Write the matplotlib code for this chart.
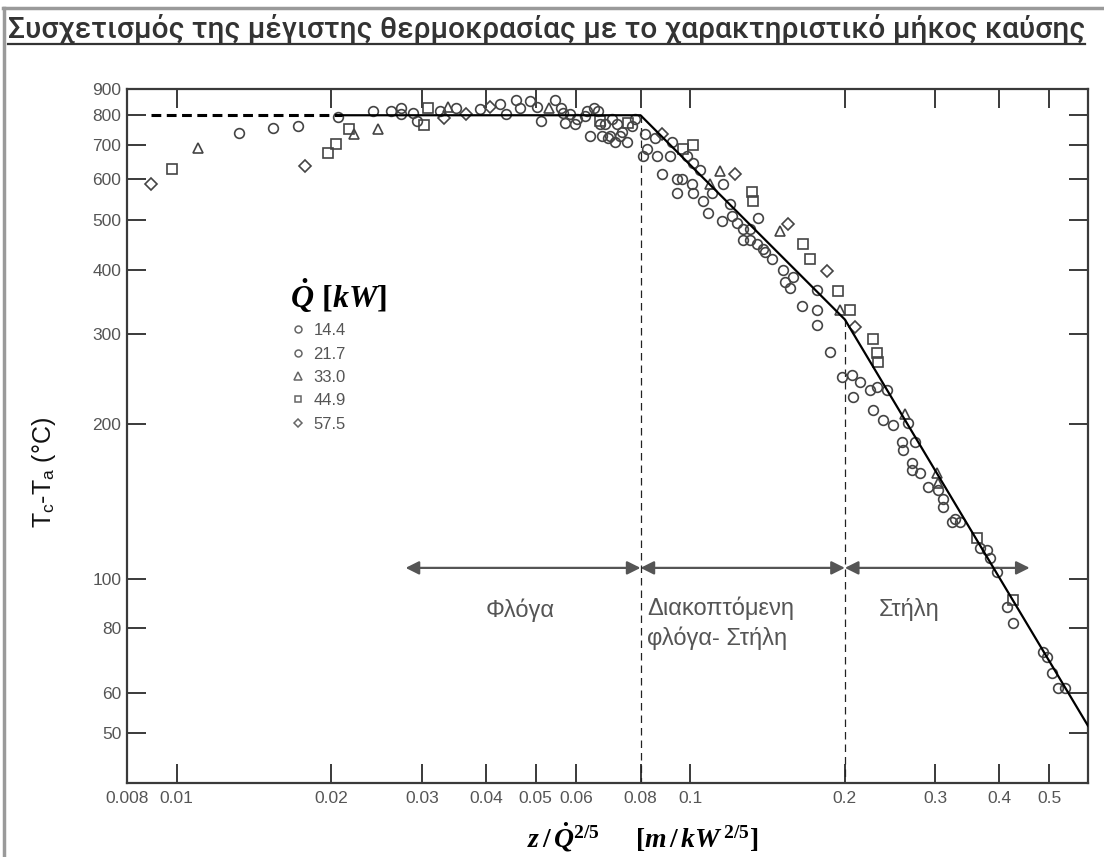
import matplotlib
matplotlib.use("Agg")
import matplotlib.pyplot as plt
from matplotlib.lines import Line2D
from matplotlib.ticker import FixedLocator, FixedFormatter, NullLocator

# ---------------- data ----------------
title = "Συσχετισμός της μέγιστης θερμοκρασίας με το χαρακτηριστικό μήκος καύσης"

q144_x = [0.0132, 0.0172, 0.0241, 0.0273, 0.0294, 0.0349, 0.0427, 0.0457, 0.0488, 0.0511,
          0.0559, 0.0597, 0.0648, 0.0683, 0.0721, 0.0715, 0.0571, 0.063, 0.0668, 0.0693,
          0.0731, 0.0754, 0.0818, 0.081, 0.0863, 0.0914, 0.0943, 0.0965, 0.1013, 0.1009,
          0.106, 0.1104, 0.1196, 0.1207, 0.1268, 0.1308, 0.1308, 0.1387, 0.1444, 0.153,
          0.1586, 0.1766, 0.1766, 0.1976, 0.2142, 0.224, 0.2417, 0.2374, 0.2655, 0.2585,
          0.2703, 0.2802, 0.3038, 0.3106, 0.3233, 0.3667, 0.3835, 0.4138, 0.4863, 0.5062,
          0.5365]
q144_y = [740, 762, 815, 825, 779, 825, 840, 856, 851, 779,
          825, 769, 825, 769, 769, 711, 772, 815, 769, 722,
          728, 711, 734, 665, 665, 665, 602, 602, 646, 587,
          545, 565, 538, 509, 480, 480, 458, 439, 419, 378,
          388, 366, 312, 247, 242, 233, 233, 204, 201, 185,
          168, 161, 149, 138, 129, 115, 110, 88, 72, 65.6,
          61.3]

q217_x = [0.0154, 0.0206, 0.0261, 0.0273, 0.0289, 0.0326, 0.039, 0.0437, 0.0467, 0.0504,
          0.0546, 0.0584, 0.0625, 0.0662, 0.0699, 0.0771, 0.0566, 0.0603, 0.0639, 0.0674,
          0.0705, 0.0737, 0.0782, 0.0825, 0.0855, 0.0882, 0.0923, 0.0943, 0.0987, 0.1046,
          0.1013, 0.1084, 0.1159, 0.1154, 0.1234, 0.1268, 0.1356, 0.135, 0.14, 0.1517,
          0.1565, 0.1652, 0.1766, 0.1873, 0.2067, 0.2076, 0.2311, 0.227, 0.2482, 0.274,
          0.2596, 0.2703, 0.2904, 0.3106, 0.3279, 0.3353, 0.3784, 0.3957, 0.4251, 0.4951,
          0.52]
q217_y = [755, 793, 815, 804, 807, 815, 821, 804, 825, 832,
          856, 804, 796, 815, 728, 762, 807, 786, 728, 728,
          786, 743, 786, 689, 722, 616, 711, 565, 665, 627,
          565, 516, 587, 498, 494, 458, 505, 450, 433, 399,
          368, 340, 334, 276, 250, 226, 236, 213, 199, 185,
          178, 163, 151, 143, 131, 129, 114, 103, 82, 70.5,
          61.3]

q330_x = [0.011, 0.0221, 0.0246, 0.0337, 0.053, 0.1094, 0.1144, 0.1497, 0.1958, 0.262,
          0.3024, 0.3038]
q330_y = [692, 737, 752, 830, 825, 587, 622, 476, 334, 209,
          161, 154]

q449_x = [0.0098, 0.0197, 0.0204, 0.0216, 0.0303, 0.0308, 0.0668, 0.0758, 0.0969, 0.1013,
          0.132, 0.1326, 0.1659, 0.1712, 0.1941, 0.2048, 0.227, 0.2311, 0.2321, 0.3618,
          0.4251]
q449_y = [630, 674, 704, 752, 765, 825, 779, 772, 689, 701,
          568, 545, 448, 419, 363, 334, 293, 275, 264, 120,
          91]

q575_x = [0.0089, 0.0178, 0.0331, 0.0365, 0.0408, 0.0882, 0.1223, 0.1551, 0.1847, 0.2094]
q575_y = [587, 636, 790, 804, 832, 737, 614, 491, 397, 310]

series_labels = ["14.4", "21.7", "33.0", "44.9", "57.5"]

# correlation lines
dash_x = [0.0089, 0.021]
dash_y = [800, 800]
corr_x = [0.021, 0.08, 0.2, 0.595]
corr_y = [800, 800, 320, 51.7]

# region boundaries and arrows
bound_x = [0.08, 0.2]
bound_top = [800, 320]
arrow_y = 105
arrow_spans = [(0.0279, 0.08), (0.08, 0.2), (0.2, 0.458)]
region_labels = ["Φλόγα", "Διακοπτόμενη\nφλόγα- Στήλη", "Στήλη"]
region_pos = [(0.0467, 87), (0.0825, 82), (0.267, 87)]
region_ha = ["center", "left", "center"]

xticks = [0.008, 0.01, 0.02, 0.03, 0.04, 0.05, 0.06, 0.08, 0.1, 0.2, 0.3, 0.4, 0.5]
xtick_labels = ["0.008", "0.01", "0.02", "0.03", "0.04", "0.05", "0.06", "0.08", "0.1",
                "0.2", "0.3", "0.4", "0.5"]
yticks = [50, 60, 80, 100, 200, 300, 400, 500, 600, 700, 800, 900]
ytick_labels = [str(v) for v in yticks]

# ---------------- style ----------------
plt.rcParams["mathtext.fontset"] = "custom"
plt.rcParams["mathtext.it"] = "Liberation Serif:italic:bold"
plt.rcParams["mathtext.rm"] = "Liberation Serif:bold"
plt.rcParams["mathtext.bf"] = "Liberation Serif:bold"
plt.rcParams["font.family"] = ["Liberation Sans", "DejaVu Sans"]

W, H = 1104, 857
fig = plt.figure(figsize=(W / 100, H / 100), dpi=100)
fig.patch.set_facecolor("white")

L, R, T, B = 127, 1088, 89, 783
ax = fig.add_axes([L / W, 1 - B / H, (R - L) / W, (B - T) / H])
ax.set_xscale("log")
ax.set_yscale("log")
ax.set_xlim(0.008, 0.595)
ax.set_ylim(40, 900)

frame_col = "#3a3a3a"
for s in ax.spines.values():
    s.set_color(frame_col)
    s.set_linewidth(1.6)

ax.xaxis.set_major_locator(FixedLocator(xticks))
ax.xaxis.set_major_formatter(FixedFormatter(xtick_labels))
ax.xaxis.set_minor_locator(NullLocator())
ax.yaxis.set_major_locator(FixedLocator(yticks))
ax.yaxis.set_major_formatter(FixedFormatter(ytick_labels))
ax.yaxis.set_minor_locator(NullLocator())
ax.tick_params(axis="both", which="major", direction="in", length=14, width=1.4,
               color=frame_col, top=True, right=True, labelsize=12.5,
               labelcolor="#555555")
ax.tick_params(axis="x", pad=6)
ax.tick_params(axis="y", pad=4)

mk = dict(linestyle="none", markerfacecolor="none", markeredgecolor="#444444",
          markeredgewidth=1.2, zorder=3)
ax.plot(q144_x, q144_y, marker="o", markersize=7, **mk)
ax.plot(q217_x, q217_y, marker="o", markersize=7, **mk)
ax.plot(q330_x, q330_y, marker="^", markersize=7.5, **mk)
ax.plot(q449_x, q449_y, marker="s", markersize=6.5, **mk)
ax.plot(q575_x, q575_y, marker="D", markersize=6, **mk)

ax.plot(dash_x, dash_y, color="black", lw=2.2, dashes=(3.2, 1.8), zorder=4)
ax.plot(corr_x, corr_y, color="black", lw=1.6, zorder=4)

for bx, bt in zip(bound_x, bound_top):
    ax.plot([bx, bx], [bt, 40], color="#222222", lw=0.9, dashes=(6, 4), zorder=2)

for x0, x1 in arrow_spans:
    ax.annotate("", xy=(x1, arrow_y), xytext=(x0, arrow_y),
                arrowprops=dict(arrowstyle="<|-|>", mutation_scale=20, lw=1.6,
                                color="#555555", shrinkA=0, shrinkB=0))

for lab, (px, py), ha in zip(region_labels, region_pos, region_ha):
    ax.text(px, py, lab, ha=ha, va="center", fontsize=17, color="#555555",
            linespacing=1.35)

# legend
handles = [
    Line2D([], [], marker="o", ls="none", mfc="none", mec="#666666", mew=1.1, ms=5),
    Line2D([], [], marker="o", ls="none", mfc="none", mec="#666666", mew=1.1, ms=5),
    Line2D([], [], marker="^", ls="none", mfc="none", mec="#666666", mew=1.1, ms=5.5),
    Line2D([], [], marker="s", ls="none", mfc="none", mec="#666666", mew=1.1, ms=5),
    Line2D([], [], marker="D", ls="none", mfc="none", mec="#666666", mew=1.1, ms=4.5),
]
leg = ax.legend(handles, series_labels, title=r"$\dot{Q}\ [kW]$",
                loc="upper left", bbox_to_anchor=(290 / W, 1 - 276 / H),
                bbox_transform=fig.transFigure, frameon=False, borderpad=0,
                borderaxespad=0, handlelength=0.9, handletextpad=0.5,
                labelspacing=0.5, fontsize=12, alignment="left")
leg.get_title().set_fontsize(23)
for t in leg.get_texts():
    t.set_color("#555555")

ax.set_xlabel(r"$z\,/\,\dot{Q}^{2/5}\quad\ \ [m\,/\,kW^{\,2/5}]$", fontsize=20,
              labelpad=4)
ax.xaxis.set_label_coords((643 - L) / (R - L), -(837 - B) / (B - T))
ax.xaxis.label.set_va("center")
ax.set_ylabel(r"T$_\mathregular{c}$-T$_\mathregular{a}$ (°C)", fontsize=18,
              color="#111111")
ax.yaxis.set_label_coords(-(L - 44) / (R - L), 1 - (472 - T) / (B - T))
ax.yaxis.label.set_va("center")

# title with underline
tt = fig.text(8 / W, 1 - 38 / H, title, fontsize=18, family=["Roboto", "DejaVu Sans"],
              fontweight="medium", color="#333333", ha="left", va="baseline")
fig.canvas.draw()
bb = tt.get_window_extent()
tt.set_fontsize(18 * 1078 / bb.width)
fig.canvas.draw()
bb = tt.get_window_extent()
fig.add_artist(Line2D([bb.x0 / W, bb.x1 / W], [1 - 43.5 / H] * 2,
                      transform=fig.transFigure, color="#333333", lw=1.6))

# slide frame (top and left gray border)
fig.add_artist(Line2D([3 / W, 1.0], [1 - 8 / H] * 2, transform=fig.transFigure,
                      color="#9a9a9a", lw=2.5))
fig.add_artist(Line2D([4 / W, 4 / W], [0, 1 - 8 / H], transform=fig.transFigure,
                      color="#9a9a9a", lw=2.5))

fig.savefig("out.png", dpi=100)
